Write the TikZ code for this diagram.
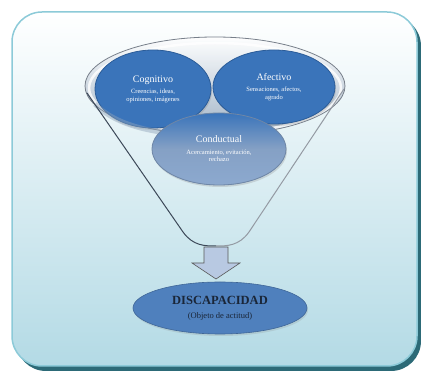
\documentclass[tikz,border=0pt]{standalone}
\usepackage{fontspec}
\setmainfont{Liberation Serif}
\usetikzlibrary{shapes.geometric, positioning, shadows}
\definecolor{FrameLine}{HTML}{8CCAD8}
\definecolor{FrameBottom}{HTML}{B3DAE5}
\definecolor{ShadowTeal}{HTML}{2C6A77}
\definecolor{BlueDark}{HTML}{3A74BA}
\definecolor{BlueEdge}{HTML}{2B5C98}
\definecolor{BlueLight}{HTML}{8CA9CF}
\definecolor{BaseBlue}{HTML}{4F80BD}
\definecolor{SlateLine}{HTML}{3C4858}
\definecolor{RimGrey}{HTML}{8FA3BA}
\definecolor{ArrowFill}{HTML}{B8C9E2}
\definecolor{TitleInk}{HTML}{1A2638}

\begin{document}
\begin{tikzpicture}[x=1pt, y=-1pt,
    blob/.style={ellipse, draw=BlueEdge, line width=0.8pt, fill=BlueDark, text=white,
                 align=center, inner sep=0pt, font=\fontsize{6.5}{7.5}\selectfont,
                 drop shadow={shadow xshift=1pt, shadow yshift=-2pt, opacity=0.25}}]
    \useasboundingbox (0,0) rectangle (421,371);
    % Frame
    \fill[ShadowTeal, rounded corners=30pt] (16,16) rectangle (421,371);
    \draw[FrameLine, line width=1.5pt, rounded corners=30pt, top color=white, bottom color=FrameBottom]
        (12,12) rectangle (417,366);
    % Funnel rim
    \shade[top color=white, bottom color=RimGrey, opacity=0.8] (215,86) ellipse [x radius=130, y radius=49];
    \draw[SlateLine!70, line width=0.8pt] (215,86) ellipse [x radius=130, y radius=49];
    \draw[white, line width=2.5pt, opacity=0.8] (215,88) ellipse [x radius=126, y radius=45];
    % Components
    \node[blob, minimum width=116pt, minimum height=78pt] (cog) at (153,89)
        {{\fontsize{10}{12}\selectfont Cognitivo}\\[4pt]Creencias, ideas,\\opiniones, imágenes};
    \node[blob, minimum width=122pt, minimum height=74pt] (afe) at (274,87)
        {{\fontsize{10}{12}\selectfont Afectivo}\\[4pt]Sensaciones, afectos,\\agrado};
    % lower edge of the rim, seen through
    \draw[RimGrey, line width=5pt, opacity=0.45] (95,104) .. controls (120,130) and (170,136) .. (215,135);
    \node[blob, minimum width=134pt, minimum height=72pt, draw=BlueLight!80!black,
          top color=BlueDark, bottom color=BlueLight, middle color=BlueLight!95!black,
          shading angle=0] (con) at (219,149)
        {{\fontsize{10}{12}\selectfont Conductual}\\[4pt]Acercamiento, evitación,\\rechazo};
    % Funnel sides
    \draw[SlateLine, line width=1pt] (87,93) -- (183,232) .. controls (193,246) and (205,246) .. (216,246);
    \draw[SlateLine!55, line width=1pt] (216,246) .. controls (227,246) and (239,246) .. (249,232) -- (344,89);
    % Arrow
    \node[inner sep=0pt, minimum size=0pt] (tip) at (216,279) {};
    \draw[gray!70!black, line width=0.6pt, fill=ArrowFill]
        (204,247) -- (228,247) -- (228,263) -- (240,263) -- (tip.center) -- (192,263) -- (204,263) -- cycle;
    % Object
    \node[ellipse, fill=BaseBlue, draw=BaseBlue!80!black, line width=0.6pt, text=TitleInk,
          minimum width=174pt, minimum height=52pt, align=center, inner sep=0pt,
          drop shadow={shadow xshift=1pt, shadow yshift=-2pt, opacity=0.2}] (dis) at (220,308)
        {{\fontsize{12.5}{14}\selectfont\bfseries DISCAPACIDAD}\\[2pt]{\fontsize{8.5}{10}\selectfont (Objeto de actitud)}};
\end{tikzpicture}
\end{document}
